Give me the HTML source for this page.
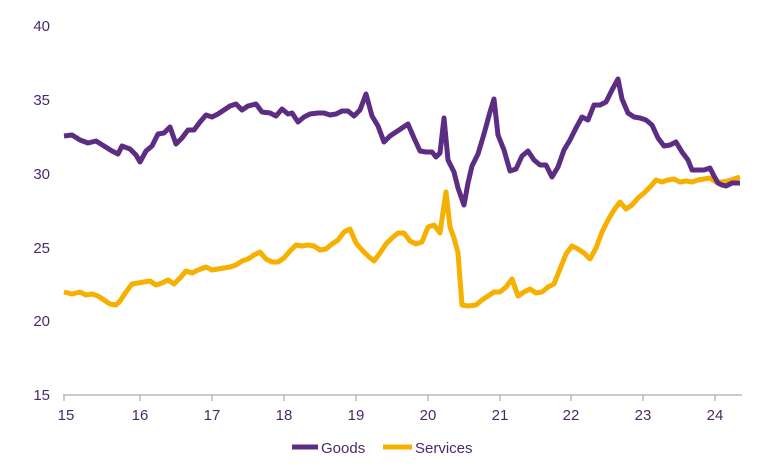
<!DOCTYPE html>
<html><head><style>
html,body{margin:0;padding:0;background:#fff;}
svg{display:block;font-family:"Liberation Sans",sans-serif;}
</style></head><body>
<svg width="768" height="471" viewBox="0 0 768 471">
<g fill="#4a2a6a" font-size="15" text-anchor="end">
<text x="50" y="31">40</text><text x="50" y="105">35</text><text x="50" y="179">30</text>
<text x="50" y="253">25</text><text x="50" y="326">20</text><text x="50" y="400">15</text>
</g>
<line x1="63" y1="395" x2="742" y2="395" stroke="#999" stroke-width="1"/>
<g stroke="#999" stroke-width="1">
<line x1="64" y1="395" x2="64" y2="401"/><line x1="140" y1="395" x2="140" y2="401"/><line x1="212" y1="395" x2="212" y2="401"/><line x1="284" y1="395" x2="284" y2="401"/><line x1="356" y1="395" x2="356" y2="401"/><line x1="428" y1="395" x2="428" y2="401"/><line x1="500" y1="395" x2="500" y2="401"/><line x1="571" y1="395" x2="571" y2="401"/><line x1="643" y1="395" x2="643" y2="401"/><line x1="715" y1="395" x2="715" y2="401"/>
</g>
<g fill="#4a2a6a" font-size="15" text-anchor="middle">
<text x="66" y="420">15</text><text x="140" y="420">16</text><text x="212" y="420">17</text><text x="284" y="420">18</text><text x="356" y="420">19</text><text x="428" y="420">20</text><text x="500" y="420">21</text><text x="571" y="420">22</text><text x="643" y="420">23</text><text x="715" y="420">24</text>
</g>
<polyline fill="none" stroke="#f5b000" stroke-width="5" stroke-linejoin="round" points="64,292 72,294 80,292 86,295 92,294 98,296 104,300 110,304 116,305 120,301 126,292 132,284 138,283 144,282 150,281 156,285 162,283 168,280 174,284 180,278 186,271 192,273 198,270 206,267 212,270 218,269 224,268 230,267 236,265 242,261 248,259 254,255 260,252 266,259 272,262 278,262 284,258 290,251 296,245 302,246 308,245 314,246 320,250 326,249 332,244 338,240 344,232 350,229 356,243 362,250 368,256 374,261 380,253 386,244 392,238 398,233 404,233 410,241 416,244 422,242 428,227 434,225 440,233 446,192 450,227 454,238 458,253 462,305 468,306 476,305 482,300 488,296 494,292 500,292 506,287 512,279 518,296 524,292 530,289 536,293 542,292 548,287 554,284 560,269 566,254 572,246 578,249 584,253 590,259 596,248 602,232 608,220 614,210 620,202 626,209 632,205 638,198 644,193 650,187 656,180 662,182 668,180 674,179 680,182 686,181 692,182 698,180 704,179 710,178 716,182 722,182 728,181 734,179 740,177"/>
<polyline fill="none" stroke="#5c2d82" stroke-width="5" stroke-linejoin="round" points="64,136 72,135 80,140 88,143 96,141 104,146 112,151 118,154 122,146 130,149 136,155 140,162 146,151 152,146 158,134 164,133 170,127 176,144 182,138 188,130 194,130 200,122 206,115 212,117 218,114 224,110 230,106 236,104 242,110 248,106 256,104 262,112 270,113 276,116 282,109 288,114 292,113 298,122 304,117 310,114 318,113 324,113 330,115 336,114 342,111 348,111 354,116 360,110 366,94 372,116 378,126 384,142 390,136 396,132 402,128 408,124 414,138 420,151 426,152 432,152 436,157 440,153 444,118 448,160 454,172 458,188 464,205 468,183 472,166 478,154 484,134 490,112 494,99 498,135 504,150 510,171 516,169 522,156 528,151 534,160 540,165 546,165 552,177 558,167 564,150 570,140 576,128 582,117 588,120 594,105 600,105 606,102 612,90 618,79 622,99 628,113 634,117 640,118 646,120 652,125 658,138 664,146 670,145 676,142 682,152 688,160 692,170 698,170 704,170 710,168 714,176 718,183 722,185 726,186 732,183 740,183"/>
<line x1="292" y1="447" x2="318" y2="447" stroke="#5c2d82" stroke-width="5"/>
<text x="321" y="453" font-size="15" fill="#4a2a6a">Goods</text>
<line x1="383" y1="447" x2="412" y2="447" stroke="#f5b000" stroke-width="5"/>
<text x="415" y="453" font-size="15" fill="#4a2a6a">Services</text>
</svg>
</body></html>
